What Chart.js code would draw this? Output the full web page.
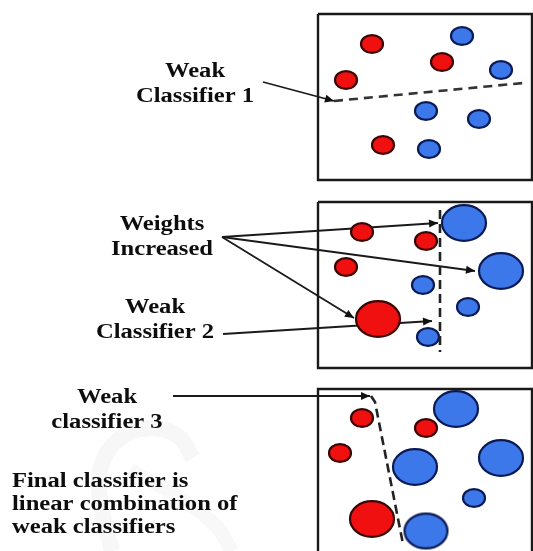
<!DOCTYPE html>
<html><head><meta charset="utf-8">
<script src="https://cdn.jsdelivr.net/npm/chart.js@4/dist/chart.umd.min.js"></script>
<style>html,body{margin:0;padding:0;background:#fff;overflow:hidden}canvas{display:block}</style>
</head><body>
<canvas id="c" width="533" height="551"></canvas>
<script>
// ---- data (diagram coordinates, x right, y down) ----
// points: [x, y, weight]  (weight 1 = normal, 2 = increased)
const box1Red  = [[372,44,1],[442,62,1],[346,80,1],[383,145,1]];
const box1Blue = [[462,36,1],[501,70,1],[426,111,1],[479,119,1],[429,149,1]];
const box2Red  = [[362,232,1],[426,241,1],[346,267,1],[378,319,2]];
const box2Blue = [[464,223,2],[501,271,2],[423,285,1],[468,307,1],[428,337,1]];
const box3Red  = [[362,418,1],[426,428,1],[340,453,1],[372,519,2]];
const box3Blue = [[456,409,2],[415,467,2],[501,458,2],[474,498,1],[426,531,1.95]];

const frame1 = [[318,14],[532,14],[532,180],[318,180],[318,14]];
const frame2 = [[318,202],[532,202],[532,368],[318,368],[318,202]];
const frame3 = [[318,560],[318,389],[532,389],[532,560]];

const classifier1 = [[334,101],[523,83]];
const classifier2 = [[440,210],[440,352]];
const classifier3 = [[371,396],[375,402],[403,544]];

const arrowC1  = [[263,82],[334,101]];
const arrowW1  = [[222,237],[438,223]];
const arrowW2  = [[222,237],[475,271]];
const arrowW3  = [[222,237],[354,318]];
const arrowC2  = [[223,334],[432,321]];
const arrowC3  = [[173,396],[370,396]];

// faint background watermark strokes
const watermarkA = [[193,458],[178,436],[150,428],[118,440],[100,470],[102,510],[112,551]];
const watermarkB = [[130,470],[175,495],[215,525],[232,551]];

const labels = [
  {lines:['Weak','Classifier 1'], x:195, y:72, align:'center'},
  {lines:['Weights','Increased'], x:162, y:225, align:'center'},
  {lines:['Weak','Classifier 2'], x:155, y:308, align:'center'},
  {lines:['Weak','classifier 3'], x:107, y:398, align:'center'},
  {lines:['Final classifier is','linear combination of','weak classifiers'], x:12, y:482, align:'left'}
];

// ---- helpers ----
const xy = a => a.map(p => ({x:p[0], y:p[1]}));
const bub = a => a.map(p => ({x:p[0], y:p[1], r:p[2]*11}));
const imgCache = {};
function ellipseImg(rx, fill, stroke){
  const key = rx+fill;
  if (imgCache[key]) return imgCache[key];
  const ry = rx*0.81;
  const cv = document.createElement('canvas');
  cv.width = Math.ceil(2*rx+4); cv.height = Math.ceil(2*ry+4);
  const g = cv.getContext('2d');
  g.beginPath();
  g.ellipse(cv.width/2, cv.height/2, rx, ry, 0, 0, Math.PI*2);
  g.fillStyle = fill; g.fill();
  g.lineWidth = 2.2; g.strokeStyle = stroke; g.stroke();
  imgCache[key] = cv;
  return cv;
}
const RED = '#f01010', RED_B = '#3a0505', BLUE = '#3d78ea', BLUE_B = '#0a1a55';

function lineDs(pts, opts){
  return Object.assign({type:'line', data:xy(pts), showLine:true, fill:false,
    pointRadius:0, borderColor:'#1a1a1a', borderWidth:2.4, tension:0, clip:false}, opts||{});
}
function bubbleDs(pts, fill, stroke){
  return {type:'bubble', data:bub(pts), clip:false,
    pointStyle: c => ellipseImg(c.raw ? c.raw.r : 11, fill, stroke),
    backgroundColor: fill, borderColor: stroke};
}

const datasets = [
  lineDs(watermarkA, {borderColor:'#f7f7f7', borderWidth:16, tension:0.4}),
  lineDs(watermarkB, {borderColor:'#f8f8f8', borderWidth:14, tension:0.4}),
  lineDs(frame1), lineDs(frame2), lineDs(frame3),
  lineDs(classifier1, {borderDash:[9,6], borderColor:'#333', borderWidth:2.6}),
  lineDs(classifier2, {borderDash:[9,5], borderColor:'#222', borderWidth:2.6}),
  lineDs(classifier3, {borderDash:[9,5], borderColor:'#222', borderWidth:2.6}),
  bubbleDs(box1Red, RED, RED_B), bubbleDs(box1Blue, BLUE, BLUE_B),
  bubbleDs(box2Red, RED, RED_B), bubbleDs(box2Blue, BLUE, BLUE_B),
  bubbleDs(box3Red, RED, RED_B), bubbleDs(box3Blue, BLUE, BLUE_B),
  lineDs(arrowC1, {arrow:true, borderWidth:1.8}),
  lineDs(arrowW1, {arrow:true, borderWidth:1.8}),
  lineDs(arrowW2, {arrow:true, borderWidth:1.8}),
  lineDs(arrowW3, {arrow:true, borderWidth:1.8}),
  lineDs(arrowC2, {arrow:true, borderWidth:1.8}),
  lineDs(arrowC3, {arrow:true, borderWidth:1.8})
];

const arrowHeads = {
  id:'arrowHeads',
  afterDatasetsDraw(chart){
    const {ctx, scales:{x, y}} = chart;
    chart.data.datasets.forEach(ds => {
      if (!ds.arrow) return;
      const n = ds.data.length;
      const a = ds.data[n-2], b = ds.data[n-1];
      const x1 = x.getPixelForValue(a.x), y1 = y.getPixelForValue(a.y);
      const x2 = x.getPixelForValue(b.x), y2 = y.getPixelForValue(b.y);
      const ang = Math.atan2(y2-y1, x2-x1), L = 9, W = 4;
      ctx.save();
      ctx.translate(x2, y2); ctx.rotate(ang);
      ctx.beginPath(); ctx.moveTo(0,0); ctx.lineTo(-L, -W); ctx.lineTo(-L, W); ctx.closePath();
      ctx.fillStyle = '#111'; ctx.fill();
      ctx.restore();
    });
  }
};

const FONT = 'bold 20px "Liberation Serif", "Times New Roman", serif';
const textLabels = {
  id:'textLabels',
  afterDraw(chart){
    const {ctx, scales:{x, y}} = chart;
    ctx.save();
    ctx.fillStyle = '#0d0d0d';
    ctx.font = FONT;
    ctx.textBaseline = 'middle';
    labels.forEach(l => {
      l.lines.forEach((t, i) => {
        const px = x.getPixelForValue(l.x), py = y.getPixelForValue(l.y + i*(l.align==='left'?23:25));
        ctx.save();
        ctx.translate(px, py); ctx.scale(1.23, 1);
        ctx.textAlign = l.align;
        ctx.fillText(t, 0, 0);
        ctx.restore();
      });
    });
    ctx.restore();
  }
};

new Chart(document.getElementById('c'), {
  type:'scatter',
  data:{datasets},
  options:{
    responsive:false, animation:false, events:[],
    layout:{padding:0, autoPadding:false},
    plugins:{legend:{display:false}, tooltip:{enabled:false}},
    scales:{
      x:{type:'linear', min:0, max:533, display:false},
      y:{type:'linear', min:0, max:551, reverse:true, display:false}
    }
  },
  plugins:[arrowHeads, textLabels]
});
</script>
</body></html>
